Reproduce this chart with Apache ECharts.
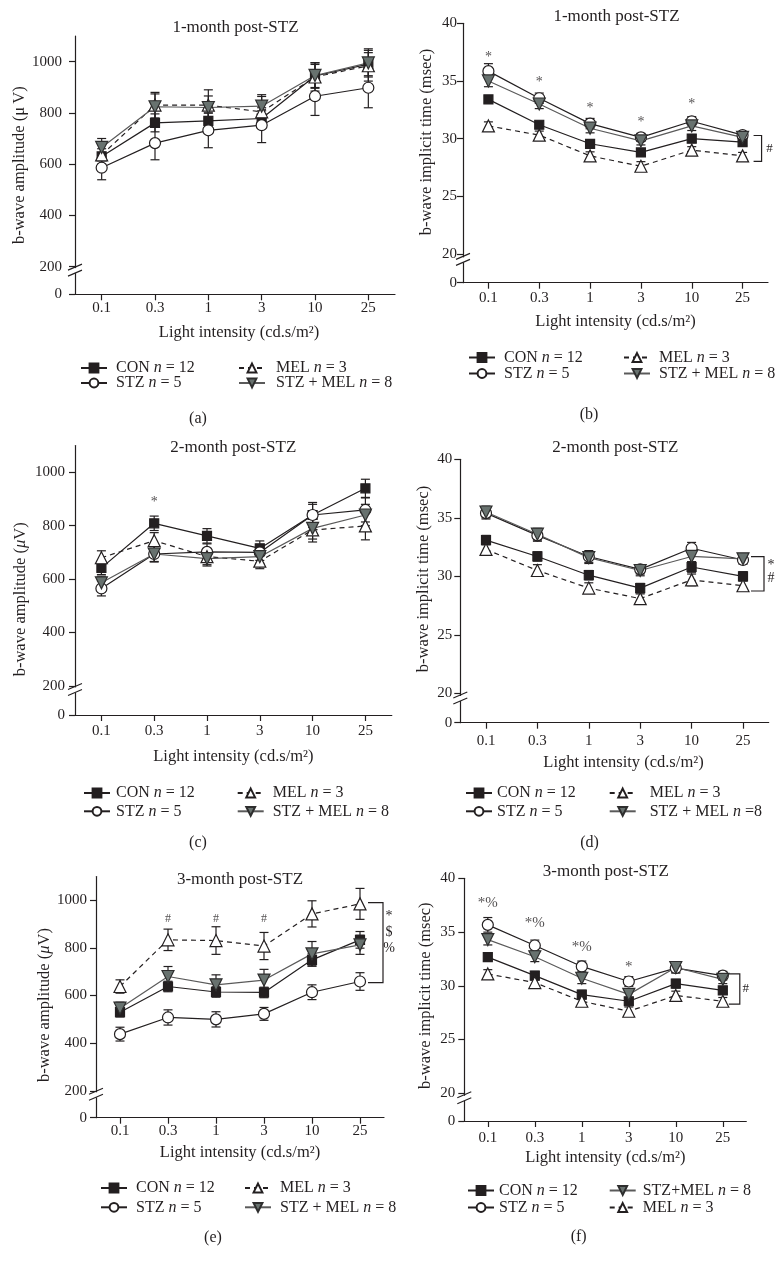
<!DOCTYPE html>
<html>
<head>
<meta charset="utf-8">
<script src="https://cdn.jsdelivr.net/npm/echarts@6.0.0/dist/echarts.min.js"></script>
<style>
html,body{margin:0;padding:0;background:#ffffff;}
#chart{width:784px;height:1270px;}
</style>
</head>
<body>
<div id="chart"></div>
<script>
// ------------------------------------------------------------------ data
const intensityLabels = ['0.1', '0.3', '1', '3', '10', '25'];
const amplitudeTicks = [200, 400, 600, 800, 1000];
const implicitTicks = [20, 25, 30, 35, 40];

// (a) 1-month post-STZ, b-wave amplitude (µV)
const conA = [630, 761, 769, 778, 944, 990];
const stzA = [586, 682, 732, 752, 865, 898];
const melA = [636, 830, 830, 804, 940, 984];
const stzMelA = [665, 824, 821, 826, 946, 995];
const conAErr = [30, 35, 30, 30, 45, 45];
const stzAErr = [47, 65, 68, 68, 75, 78];
const melAErr = [40, 50, 60, 60, 55, 60];
const stzMelAErr = [35, 50, 45, 45, 50, 55];

// (b) 1-month post-STZ, b-wave implicit time (msec)
const conB = [33.4, 31.2, 29.55, 28.8, 30.0, 29.7];
const stzB = [35.85, 33.5, 31.3, 30.1, 31.5, 30.3];
const melB = [31.1, 30.3, 28.5, 27.6, 29.0, 28.5];
const stzMelB = [35.0, 33.0, 30.9, 29.8, 31.1, 30.1];
const conBErr = [0.3, 0.3, 0.3, 0.3, 0.35, 0.3];
const stzBErr = [0.65, 0.45, 0.45, 0.35, 0.4, 0.3];
const melBErr = [0.35, 0.35, 0.35, 0.4, 0.3, 0.3];
const stzMelBErr = [0.5, 0.4, 0.4, 0.35, 0.4, 0.3];

// (c) 2-month post-STZ, amplitude
const conC = [642, 809, 762, 715, 840, 940];
const stzC = [565, 694, 702, 700, 840, 859];
const melC = [680, 744, 684, 667, 784, 799];
const stzMelC = [586, 694, 677, 684, 790, 840];
const conCErr = [25, 27, 27, 28, 40, 34];
const stzCErr = [28, 30, 30, 30, 47, 45];
const melCErr = [26, 30, 30, 28, 45, 52];
const stzMelCErr = [25, 28, 28, 25, 40, 40];

// (d) 2-month post-STZ, implicit time
const conD = [33.1, 31.7, 30.1, 29.0, 30.8, 30.0];
const stzD = [35.4, 33.5, 31.7, 30.6, 32.4, 31.4];
const melD = [32.3, 30.5, 29.0, 28.1, 29.7, 29.2];
const stzMelD = [35.5, 33.6, 31.6, 30.5, 31.7, 31.5];
const conDErr = [0.4, 0.4, 0.4, 0.4, 0.45, 0.4];
const stzDErr = [0.5, 0.5, 0.5, 0.4, 0.5, 0.35];
const melDErr = [0.45, 0.5, 0.45, 0.4, 0.5, 0.45];
const stzMelDErr = [0.5, 0.5, 0.5, 0.45, 0.45, 0.35];

// (e) 3-month post-STZ, amplitude
const conE = [530, 638, 615, 613, 750, 834];
const stzE = [438, 508, 500, 523, 614, 659];
const melE = [638, 834, 831, 808, 943, 985];
const stzMelE = [547, 680, 645, 665, 775, 813];
const conEErr = [20, 22, 22, 22, 25, 35];
const stzEErr = [29, 32, 32, 27, 31, 37];
const melEErr = [28, 45, 58, 57, 55, 65];
const stzMelEErr = [25, 42, 42, 45, 52, 40];

// (f) 3-month post-STZ, implicit time
const conF = [32.67, 30.94, 29.18, 28.56, 30.2, 29.58];
const stzF = [35.67, 33.75, 31.8, 30.4, 31.65, 30.94];
const melF = [31.1, 30.3, 28.56, 27.63, 29.1, 28.56];
const stzMelF = [34.3, 32.7, 30.7, 29.2, 31.7, 30.6];
const conFErr = [0.35, 0.4, 0.4, 0.35, 0.4, 0.35];
const stzFErr = [0.68, 0.5, 0.5, 0.45, 0.45, 0.4];
const melFErr = [0.4, 0.4, 0.4, 0.4, 0.4, 0.35];
const stzMelFErr = [0.5, 0.45, 0.5, 0.45, 0.5, 0.4];

// significance marks: [category index, value, text]
const marksB = [[0, 37.06, '*'], [1, 34.89, '*'], [2, 32.62, '*'], [3, 31.4, '*'], [4, 32.97, '*']];
const marksC = [[1, 889, '*']];
const marksE = [[1, 924, '#'], [2, 924, '#'], [3, 922, '#']];
const marksF = [[0, 37.73, '*%'], [1, 35.81, '*%'], [2, 33.58, '*%'], [3, 31.75, '*']];
// brackets at last intensity: [category index, top value, bottom value], text
const bracketB = {span: [5, 30.27, 28.03], text: '#'};
const bracketD = {span: [5, 31.68, 28.75], text: '*\n#'};
const bracketE = {span: [5, 990, 654], text: '*\n$\n%'};
const bracketF = {span: [5, 31.1, 28.3], text: '#'};

// ------------------------------------------------------------------ styling / layout
const FONT = '"Liberation Serif", "Times New Roman", serif';
const INK = '#231f20';
const NAME_FS = 16.5, LEG_FS = 16, TITLE_FS = 17, TICK_FS = 15;
const groupStyles = {
  'CON': {symbol: 'rect', size: 9, rotate: 0, fill: INK, border: INK, line: INK, dash: 'solid'},
  'STZ': {symbol: 'circle', size: 11, rotate: 0, fill: '#ffffff', border: INK, line: INK, dash: 'solid'},
  'MEL': {symbol: 'triangle', size: 12, rotate: 0, fill: '#ffffff', border: INK, line: INK, dash: [5, 4]},
  'STZ+MEL': {symbol: 'triangle', size: 12, rotate: 180, fill: '#68726f', border: '#2e2e2e', line: '#5a5a5a', dash: 'solid'}
};
const legendText = {'CON': 'CON {i|n} = 12', 'STZ': 'STZ {i|n} = 5', 'MEL': 'MEL {i|n} = 3', 'STZ+MEL': 'STZ + MEL {i|n} = 8'};

const ampName = 'b-wave amplitude (μ\u2009V)';
const ampNameItalic = 'b-wave amplitude ({i|μ}V)';
const timeName = 'b-wave implicit time (msec)';

const panels = [
  { data: {'CON': [conA, conAErr], 'STZ': [stzA, stzAErr], 'MEL': [melA, melAErr], 'STZ+MEL': [stzMelA, stzMelAErr]},
    ticks: amplitudeTicks, yName: ampName, title: '1-month post-STZ', tag: '(a)', marks: [], bracket: null,
    L: {grid: {left: 75, top: 36, width: 320, height: 258.3}, yMin: 92, yMax: 1100, yLabelMargin: 13, yNameGap: 47, yNameShift: 0,
        xLabelMargin: 6, xNameGap: 30, xNameShift: 4, titleXY: [235.5, 27.5], tagXY: [198, 419],
        legL: [75, 355, 4], legR: [233, 355, 6], legGap: -1, rightNames: ['MEL', 'STZ+MEL'], markFont: 14, breakVal: 200, breakDy: 4}},
  { data: {'CON': [conB, conBErr], 'STZ': [stzB, stzBErr], 'MEL': [melB, melBErr], 'STZ+MEL': [stzMelB, stzMelBErr]},
    ticks: implicitTicks, yName: timeName, title: '1-month post-STZ', tag: '(b)', marks: marksB, bracket: bracketB,
    L: {grid: {left: 463, top: 23.3, width: 305, height: 259.4}, yMin: 17.5, yMax: 40, yLabelMargin: 6, yNameGap: 28, yNameShift: 11,
        xLabelMargin: 8, xNameGap: 30, xNameShift: 0, titleXY: [616.5, 16.5], tagXY: [589, 415],
        legL: [463, 344.5, 4], legR: [618, 344.5, 4], legGap: 0, rightNames: ['MEL', 'STZ+MEL'], markFont: 14,
        br: {armStart: 11, vx: 19, tx: 8, ty: 0, fs: 13, lh: 13}, breakVal: 20, breakDy: 6}},
  { data: {'CON': [conC, conCErr], 'STZ': [stzC, stzCErr], 'MEL': [melC, melCErr], 'STZ+MEL': [stzMelC, stzMelCErr]},
    ticks: amplitudeTicks, yName: ampNameItalic, title: '2-month post-STZ', tag: '(c)', marks: marksC, bracket: null,
    L: {grid: {left: 75, top: 445.6, width: 316.8, height: 269.4}, yMin: 91, yMax: 1100, yLabelMargin: 10, yNameGap: 46, yNameShift: -19,
        xLabelMargin: 9, xNameGap: 33.5, xNameShift: 0, titleXY: [233.3, 447.5], tagXY: [198, 843],
        legL: [78, 780, 1], legR: [231.7, 780, 4], legGap: 2.3, rightNames: ['MEL', 'STZ+MEL'], markFont: 14, breakVal: 200, breakDy: 4}},
  { data: {'CON': [conD, conDErr], 'STZ': [stzD, stzDErr], 'MEL': [melD, melDErr], 'STZ+MEL': [stzMelD, stzMelDErr]},
    ticks: implicitTicks, yName: timeName, title: '2-month post-STZ', tag: '(d)', marks: [], bracket: bracketD,
    legendOverride: {'STZ+MEL': 'STZ + MEL {i|n} =8'},
    L: {grid: {left: 460.3, top: 459.3, width: 308.4, height: 263.4}, yMin: 17.5, yMax: 40, yLabelMargin: 8, yNameGap: 28, yNameShift: 12,
        xLabelMargin: 11, xNameGap: 31, xNameShift: 9, titleXY: [615.3, 448], tagXY: [589.5, 843],
        legL: [460, 780, 0], legR: [603.7, 780, 9], legGap: 2.3, rightNames: ['MEL', 'STZ+MEL'], markFont: 14,
        br: {armStart: 8, vx: 21, tx: 7, ty: -2, fs: 14, lh: 12.5}, breakVal: 20, breakDy: 5}},
  { data: {'CON': [conE, conEErr], 'STZ': [stzE, stzEErr], 'MEL': [melE, melEErr], 'STZ+MEL': [stzMelE, stzMelEErr]},
    ticks: amplitudeTicks, yName: ampNameItalic, title: '3-month post-STZ', tag: '(e)', marks: marksE, bracket: bracketE,
    L: {grid: {left: 96, top: 876.5, width: 288, height: 241.2}, yMin: 87, yMax: 1100, yLabelMargin: 9, yNameGap: 40, yNameShift: -8,
        xLabelMargin: 6, xNameGap: 26, xNameShift: 0, titleXY: [240, 880], tagXY: [213, 1238],
        legL: [95, 1175, 4], legR: [239, 1175, 4], legGap: 3.3, rightNames: ['MEL', 'STZ+MEL'], markFont: 12,
        br: {armStart: 8, vx: 23, tx: 6, ty: -10, fs: 14, lh: 16}, breakVal: 200, breakDy: 4}},
  { data: {'CON': [conF, conFErr], 'STZ': [stzF, stzFErr], 'MEL': [melF, melFErr], 'STZ+MEL': [stzMelF, stzMelFErr]},
    ticks: implicitTicks, yName: timeName, title: '3-month post-STZ', tag: '(f)', marks: marksF, bracket: bracketF,
    legendOverride: {'STZ+MEL': 'STZ+MEL {i|n} = 8'},
    L: {grid: {left: 464.3, top: 878.3, width: 282, height: 242.7}, yMin: 17.42, yMax: 40, yLabelMargin: 9, yNameGap: 30, yNameShift: 4,
        xLabelMargin: 10, xNameGap: 28.5, xNameShift: 0, titleXY: [605.8, 872], tagXY: [578.7, 1236.5],
        legL: [462, 1177.5, 0], legR: [603.7, 1177.5, 2], legGap: 1, rightNames: ['STZ+MEL', 'MEL'], markFont: 15,
        br: {armStart: 6, vx: 17, tx: 6, ty: 0, fs: 13, lh: 13}, breakVal: 20, breakDy: 5}}
];

// ------------------------------------------------------------------ build option
const chart = echarts.init(document.getElementById('chart'), null, {renderer: 'canvas'});
const grids = [], xAxes = [], yAxes = [], series = [], legends = [], graphics = [];
const groupOrder = ['CON', 'STZ', 'MEL', 'STZ+MEL'];

panels.forEach((p, i) => {
  const L = p.L;
  grids.push(Object.assign({containLabel: false}, L.grid));
  const shiftPad = s => s >= 0 ? [0, 0, 0, 2 * s] : [0, -2 * s, 0, 0];
  xAxes.push({
    type: 'category', gridIndex: i, data: intensityLabels, boundaryGap: true,
    axisLine: {show: true, onZero: false, lineStyle: {color: INK, width: 1.2}},
    axisTick: {show: true, alignWithLabel: true, length: 6, lineStyle: {color: INK, width: 1.2}},
    axisLabel: {interval: 0, margin: L.xLabelMargin, fontFamily: FONT, fontSize: TICK_FS, color: INK},
    splitLine: {show: false},
    name: 'Light intensity (cd.s/m²)', nameLocation: 'middle', nameGap: L.xNameGap,
    nameTextStyle: {fontFamily: FONT, fontSize: NAME_FS, color: INK, padding: shiftPad(L.xNameShift)}
  });
  const tickVals = [L.yMin].concat(p.ticks);
  yAxes.push({
    type: 'value', gridIndex: i, min: L.yMin, max: L.yMax,
    axisLine: {show: true, lineStyle: {color: INK, width: 1.2}},
    axisTick: {show: true, length: 6, customValues: tickVals, lineStyle: {color: INK, width: 1.2}},
    axisLabel: {customValues: tickVals, margin: L.yLabelMargin, fontFamily: FONT, fontSize: TICK_FS, color: INK,
      formatter: v => (Math.abs(v - L.yMin) < 1e-6 ? '0' : String(v))},
    splitLine: {show: false},
    name: p.yName, nameLocation: 'middle', nameGap: L.yNameGap,
    nameTextStyle: {fontFamily: FONT, fontSize: NAME_FS, color: INK, padding: shiftPad(L.yNameShift),
      rich: {i: {fontFamily: FONT, fontSize: NAME_FS, fontStyle: 'italic', color: INK}}}
  });

  // error bars
  const errItems = [];
  groupOrder.forEach(g => {
    const [vals, errs] = p.data[g];
    vals.forEach((v, k) => errItems.push([k, v - errs[k], v + errs[k]]));
  });
  series.push({
    type: 'custom', xAxisIndex: i, yAxisIndex: i, z: 2, silent: true, animation: false, clip: false,
    encode: {x: 0, y: [1, 2]}, data: errItems,
    renderItem: (params, api) => {
      const a = api.coord([api.value(0), api.value(1)]);
      const b = api.coord([api.value(0), api.value(2)]);
      const w = 4.5, st = {stroke: INK, lineWidth: 1.2};
      return {type: 'group', children: [
        {type: 'line', shape: {x1: a[0], y1: a[1], x2: b[0], y2: b[1]}, style: st},
        {type: 'line', shape: {x1: a[0] - w, y1: a[1], x2: a[0] + w, y2: a[1]}, style: st},
        {type: 'line', shape: {x1: b[0] - w, y1: b[1], x2: b[0] + w, y2: b[1]}, style: st}
      ]};
    }
  });

  // group lines
  groupOrder.forEach(g => {
    const s = groupStyles[g];
    series.push({
      type: 'line', name: g, xAxisIndex: i, yAxisIndex: i, z: 3, animation: false,
      data: p.data[g][0],
      symbol: s.symbol, symbolSize: s.size, symbolRotate: s.rotate, showAllSymbol: true,
      itemStyle: {color: s.fill, borderColor: s.border, borderWidth: 1.2, opacity: 1},
      lineStyle: {color: s.line, width: 1.2, type: s.dash},
      emphasis: {disabled: true}
    });
  });

  // significance marks
  if (p.marks.length) {
    series.push({
      type: 'scatter', xAxisIndex: i, yAxisIndex: i, z: 5, silent: true, animation: false,
      symbolSize: 1, itemStyle: {color: 'rgba(0,0,0,0)'},
      data: p.marks.map(m => ({value: [m[0], m[1]], t: m[2]})),
      label: {show: true, position: 'inside', formatter: q => q.data.t, fontFamily: FONT, fontSize: L.markFont, color: INK}
    });
  }

  // bracket
  if (p.bracket) {
    const br = p.bracket, B = L.br;
    series.push({
      type: 'custom', xAxisIndex: i, yAxisIndex: i, z: 4, silent: true, animation: false, clip: false,
      encode: {x: 0, y: [1, 2]}, data: [br.span],
      renderItem: (params, api) => {
        const t = api.coord([api.value(0), api.value(1)]);
        const b = api.coord([api.value(0), api.value(2)]);
        const x0 = t[0] + B.armStart, x1 = t[0] + B.vx;
        return {type: 'group', children: [
          {type: 'polyline', shape: {points: [[x0, t[1]], [x1, t[1]], [x1, b[1]], [x0, b[1]]]},
           style: {stroke: INK, lineWidth: 1.2, fill: null}},
          {type: 'text', x: x1 + B.tx, y: (t[1] + b[1]) / 2 + B.ty,
           style: {text: br.text, align: 'center', verticalAlign: 'middle', textAlign: 'center', textVerticalAlign: 'middle',
                   fontFamily: FONT, fontSize: B.fs, lineHeight: B.lh, fill: INK}}
        ]};
      }
    });
  }

  // legends (two columns)
  const lt = Object.assign({}, legendText, p.legendOverride || {});
  const mkLegend = (pos, names) => ({
    orient: 'vertical', left: pos[0], top: pos[1], itemGap: L.legGap, itemWidth: 26, itemHeight: 11,
    selectedMode: false, data: names, formatter: n => lt[n],
    textStyle: {fontFamily: FONT, fontSize: LEG_FS, color: INK, lineHeight: 16, padding: [0, 0, 0, pos[2]],
      rich: {i: {fontFamily: FONT, fontSize: LEG_FS, fontStyle: 'italic', color: INK, lineHeight: 16}}}
  });
  legends.push(mkLegend(L.legL, ['CON', 'STZ']));
  legends.push(mkLegend(L.legR, L.rightNames));

  // titles & panel tags
  graphics.push({type: 'text', x: L.titleXY[0], y: L.titleXY[1], silent: true,
    style: {text: p.title, align: 'center', verticalAlign: 'middle', textAlign: 'center', textVerticalAlign: 'middle',
            fontFamily: FONT, fontSize: TITLE_FS, fill: INK}});
  graphics.push({type: 'text', x: L.tagXY[0], y: L.tagXY[1], silent: true,
    style: {text: p.tag, align: 'center', verticalAlign: 'middle', textAlign: 'center', textVerticalAlign: 'middle',
            fontFamily: FONT, fontSize: 16, fill: INK}});
});

chart.setOption({
  animation: false,
  backgroundColor: '#ffffff',
  textStyle: {fontFamily: FONT},
  grid: grids, xAxis: xAxes, yAxis: yAxes, series: series, legend: legends,
  graphic: {elements: graphics}
});

// axis break marks ("//") just below the lowest labelled tick
const breakEls = [];
panels.forEach((p, i) => {
  const L = p.L;
  const yb = chart.convertToPixel({yAxisIndex: i}, L.breakVal) + L.breakDy;
  const x = L.grid.left;
  breakEls.push({type: 'rect', silent: true, z: 100, shape: {x: x - 2, y: yb - 2.5, width: 4, height: 5}, style: {fill: '#ffffff'}});
  breakEls.push({type: 'line', silent: true, z: 101, shape: {x1: x - 7, y1: yb - 0.5, x2: x + 7, y2: yb - 6.5}, style: {stroke: INK, lineWidth: 1.1}});
  breakEls.push({type: 'line', silent: true, z: 101, shape: {x1: x - 7, y1: yb + 5.5, x2: x + 7, y2: yb - 0.5}, style: {stroke: INK, lineWidth: 1.1}});
});
chart.setOption({graphic: {elements: graphics.concat(breakEls)}});
</script>
</body>
</html>
